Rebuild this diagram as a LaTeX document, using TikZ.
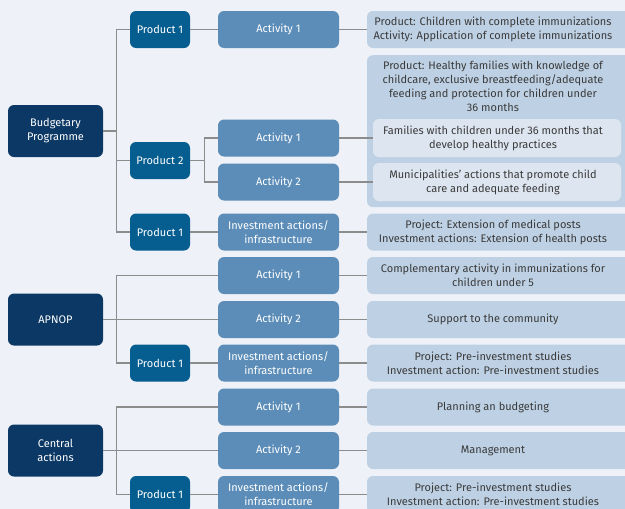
\documentclass[tikz,border=0pt]{standalone}
\usepackage{fontspec}
\setmainfont{Fira Sans}
\definecolor{pagebg}{HTML}{EEF2F8}
\definecolor{navy}{HTML}{0B3864}
\definecolor{prodblue}{HTML}{065D8F}
\definecolor{actblue}{HTML}{5B8DB8}
\definecolor{outblue}{HTML}{BED1E4}
\definecolor{innerblue}{HTML}{DDE6F0}
\definecolor{linegray}{HTML}{8C8C8C}
\definecolor{txt}{HTML}{3A3A3A}
% text block of width #1 followed by a gap of #2, so the text sits left of the box centre
\newcommand\offtext[3]{\parbox{#1}{\centering #3}\hspace*{#2}}
\begin{document}
\begin{tikzpicture}[x=1pt,y=-1pt,
  box/.style={rounded corners=6pt, inner sep=0pt, align=center,
              font=\fontsize{11}{14}\selectfont},
  lvl/.style={box, fill=navy, text=white, minimum width=95pt, minimum height=52pt},
  prod/.style={box, fill=prodblue, text=white, minimum width=60pt, minimum height=37pt},
  act/.style={box, fill=actblue, text=white, minimum width=121pt, minimum height=37pt},
  outbox/.style={box, fill=outblue, text=txt, minimum height=37pt},
  innerbox/.style={box, fill=innerblue, text=txt, minimum height=38pt},
  conn/.style={draw=linegray, line width=1.2pt}]

\useasboundingbox (0,0) rectangle (625,509);
\clip (0,0) rectangle (625,509);
\fill[pagebg] (0,0) rectangle (625,509);

% programme level
\node[lvl] (bp) at (55.5,131) {Budgetary\\Programme};
\node[lvl] (ap) at (55.5,319.5) {APNOP};
\node[lvl] (ca) at (55.5,450.5) {Central\\actions};

% products
\node[prod] (bp1) at (160,29.5) {Product 1};
\node[prod] (bp2) at (160,160.5) {Product 2};
\node[prod] (bp3) at (160,232) {Product 1};
\node[prod] (ap1) at (160,363) {Product 1};
\node[prod] (cp1) at (160,494.5) {Product 1};

% activities
\node[act] (ba1) at (278.5,29.5) {Activity 1};
\node[act] (ba2) at (278.5,138) {Activity 1};
\node[act] (ba3) at (278.5,182) {Activity 2};
\node[act] (ba4) at (278.5,232) {Investment actions/\\infrastructure};
\node[act] (aa1) at (278.5,275.5) {Activity 1};
\node[act] (aa2) at (278.5,319.5) {Activity 2};
\node[act] (aa3) at (278.5,363) {Investment actions/\\infrastructure};
\node[act] (ca1) at (278.5,407) {Activity 1};
\node[act] (ca2) at (278.5,450.5) {Activity 2};
\node[act] (ca3) at (278.5,494.5) {Investment actions/\\infrastructure};

% descriptions
\node[outbox] (o1) at (502,29.5) {\offtext{252pt}{18pt}{Product: Children with complete immunizations\\Activity: Application of complete immunizations}};
\node[outbox, minimum height=152pt, anchor=north] (ob) at (502,55)
  {\parbox[c][152pt][t]{252pt}{\centering\vspace*{6pt}Product: Healthy families with knowledge of\\childcare, exclusive breastfeeding/adequate\\feeding and protection for children under\\36 months}\hspace*{18pt}};
\node[innerbox] (oi1) at (497,138) {\offtext{240pt}{8pt}{Families with children under 36 months that\\develop healthy practices}};
\node[innerbox] (oi2) at (497,182) {\offtext{240pt}{8pt}{Municipalities’ actions that promote child\\care and adequate feeding}};
\node[outbox] (o4) at (502,232) {\offtext{252pt}{18pt}{Project: Extension of medical posts\\Investment actions: Extension of health posts}};
\node[outbox] (o5) at (502,275.5) {\offtext{252pt}{18pt}{Complementary activity in immunizations for\\children under 5}};
\node[outbox] (o6) at (502,319.5) {\offtext{252pt}{18pt}{Support to the community}};
\node[outbox] (o7) at (502,363) {\offtext{252pt}{18pt}{Project: Pre-investment studies\\Investment action: Pre-investment studies}};
\node[outbox] (o8) at (502,407) {\offtext{252pt}{18pt}{Planning an budgeting}};
\node[outbox] (o9) at (502,450.5) {\offtext{252pt}{18pt}{Management}};
\node[outbox] (o10) at (502,494.5) {\offtext{252pt}{18pt}{Project: Pre-investment studies\\Investment action: Pre-investment studies}};

% Budgetary Programme branches
\draw[conn] (bp.east) -- ++(13,0) coordinate (jb);
\draw[conn] (bp1.west) -| (jb) |- (bp3.west);
\draw[conn] (jb) |- (bp2.west);
\draw[conn] (bp2.east) -- ++(14,0) coordinate (jp);
\draw[conn] (ba2.west) -| (jp) |- (ba3.west);
\draw[conn] (bp1) -- (ba1);
\draw[conn] (bp3) -- (ba4);

% APNOP branches
\draw[conn] (ap.east) -- (aa2.west);
\draw[conn] (aa1.west) -| ([xshift=13pt]ap.east) |- (ap1.west);
\draw[conn] (ap1) -- (aa3);

% Central actions branches
\draw[conn] (ca.east) -- (ca2.west);
\draw[conn] (ca1.west) -| ([xshift=13pt]ca.east) |- (cp1.west);
\draw[conn] (cp1) -- (ca3);

% activities to descriptions
\draw[conn] (ba1) -- (o1);
\draw[conn] (ba2.east) -- (oi1.west);
\draw[conn] (ba3.east) -- (oi2.west);
\draw[conn] (ba4) -- (o4);
\draw[conn] (aa1) -- (o5);
\draw[conn] (aa2) -- (o6);
\draw[conn] (aa3) -- (o7);
\draw[conn] (ca1) -- (o8);
\draw[conn] (ca2) -- (o9);
\draw[conn] (ca3) -- (o10);
\end{tikzpicture}
\end{document}
